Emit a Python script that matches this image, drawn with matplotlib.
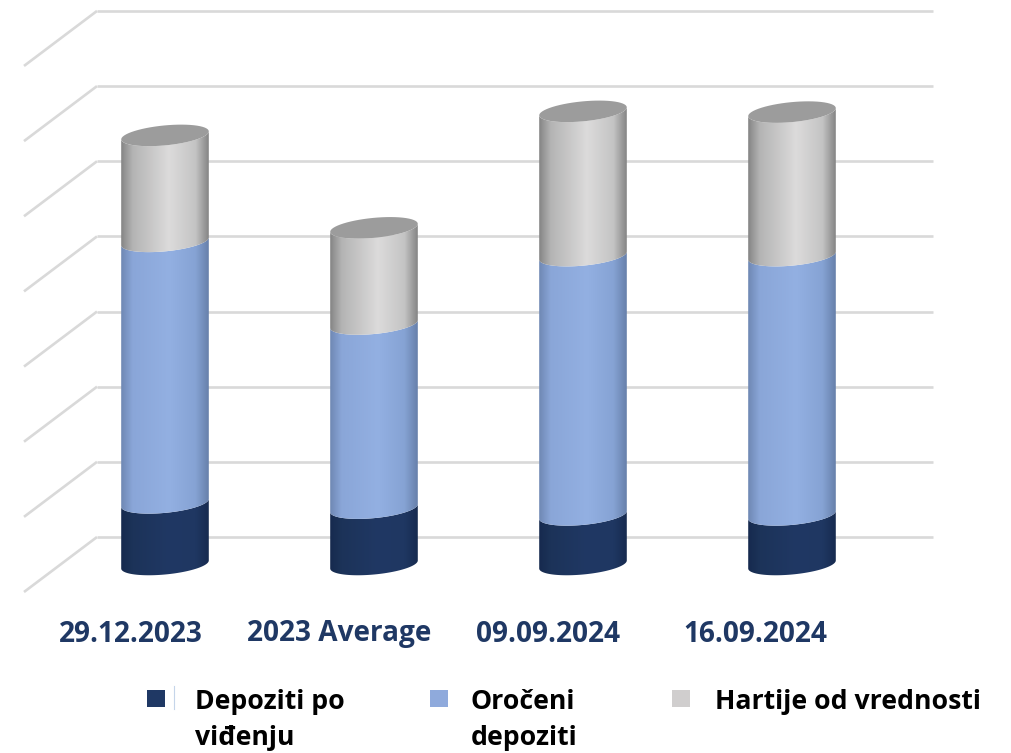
import numpy as np
import matplotlib
matplotlib.use('Agg')
import matplotlib.pyplot as plt
from matplotlib.colors import LinearSegmentedColormap
from matplotlib.patches import PathPatch, Polygon, Rectangle
from matplotlib.path import Path

categories = ['29.12.2023', '2023 Average', '09.09.2024', '16.09.2024']
demand = [0.82, 0.75, 0.66, 0.66]
term = [3.48, 2.45, 3.45, 3.45]
securities = [1.41, 1.28, 1.92, 1.91]
series_names = ['Depoziti po\nviđenju', 'Oročeni\ndepoziti', 'Hartije od vrednosti']
grid_values = [0, 1, 2, 3, 4, 5, 6, 7]

W, H = 1012, 753
PX_X = 209.0   # pixels per category
PX_Y = 75.15   # pixels per unit
X0 = 60.5      # pixel of the left end of the mid depth floor
Y0 = 564.5     # pixel of value 0 at mid depth

# the 3d look: back wall is shifted up and right, front is shifted down and left
DX = 36.5 / PX_X
DY = 27.5 / PX_Y
BAR_HALF = 43.8 / PX_X
TILT = 4.0 / PX_Y
RISE = 10.0 / PX_Y

RAMPS = [
    ['#162a4e', '#1c3359', '#203864', '#1f3762', '#172b50'],
    ['#6f88b4', '#8aa6d8', '#93b0e2', '#86a3d4', '#6780ab'],
    ['#858585', '#b4b4b4', '#dcdbdb', '#c4c4c4', '#858585'],
]
CAP_COLOR = '#9c9c9c'
GRID_COLOR = '#d9d9d9'
SWATCHES = ['#1f3864', '#8faadc', '#d0cece']
LABEL_COLOR = '#1f3864'
FONT = 'Open Sans'

fig = plt.figure(figsize=(W / 100, H / 100), dpi=100)
ax = fig.add_axes([0, 0, 1, 1])
ax.axis('off')
xlim = (-0.5 - X0 / PX_X, -0.5 + (W - X0) / PX_X)
ylim = (-(H - Y0) / PX_Y, Y0 / PX_Y)

# gridlines, back wall and left side wall
for g in grid_values:
    ax.plot([xlim[0] + (X0 + 36.5) / PX_X, -0.5 + (933 - X0) / PX_X], [g + DY, g + DY],
            color=GRID_COLOR, lw=1.9, zorder=1, solid_capstyle='butt')
    ax.plot([-0.5 - DX, -0.5 + DX], [g - DY, g + DY],
            color=GRID_COLOR, lw=1.9, zorder=1, solid_capstyle='butt')


def rim(xc, level, start, stop):
    t = np.linspace(start, stop, 60)
    return np.column_stack([xc + BAR_HALF * np.cos(t),
                            level + TILT * np.cos(t) + RISE * np.sin(t)])


def draw_segment(xc, low, high, ramp, z):
    # front arc of the lower rim, then front arc of the upper rim reversed
    lower = rim(xc, low, np.pi, 2 * np.pi)
    upper = rim(xc, high, 2 * np.pi, np.pi)
    verts = np.vstack([lower, upper, lower[:1]])
    clip = PathPatch(Path(verts), transform=ax.transData, fc='none', ec='none')
    ax.add_patch(clip)
    cmap = LinearSegmentedColormap.from_list('side', list(zip([0, 0.13, 0.55, 0.85, 1], ramp)))
    grad = np.linspace(0, 1, 128)[None, :]
    img = ax.imshow(grad, cmap=cmap, aspect='auto', zorder=z, interpolation='bilinear',
                    extent=(xc - BAR_HALF, xc + BAR_HALF, low - 2 * RISE, high + 2 * RISE))
    img.set_clip_path(clip)


for i in range(len(categories)):
    level = 0.0
    for k, vals in enumerate([demand, term, securities]):
        draw_segment(i, level, level + vals[i], RAMPS[k], 2 + k)
        level += vals[i]
    ax.add_patch(Polygon(rim(i, level, 0, 2 * np.pi), closed=True, fc=CAP_COLOR, ec='none', zorder=6))

ax.set_xlim(xlim)
ax.set_ylim(ylim)


def fx(px):
    return px / W


def fy(py):
    return 1 - py / H


# category labels
label_x = [131, 339, 548, 755.5]
for name, px in zip(categories, label_x):
    fig.text(fx(px), fy(634), name, ha='center', va='center', family=FONT,
             fontweight='bold', fontsize=20.2, color=LABEL_COLOR)

# legend, placed by hand because the columns are unevenly spaced
swatch_x = [147, 430, 672]
text_x = [195, 471, 715]
for name, color, sx, tx in zip(series_names, SWATCHES, swatch_x, text_x):
    fig.patches.append(Rectangle((fx(sx), fy(707)), 18 / W, 17 / H, transform=fig.transFigure,
                                 fc=color, ec='none'))
    fig.text(fx(tx), fy(689), name, ha='left', va='top', family=FONT, fontweight='bold',
             fontsize=19.2, color='black', linespacing=1.52)
fig.add_artist(plt.Line2D([fx(174.5), fx(174.5)], [fy(686), fy(709)], color='#c5d5ea', lw=0.8))

fig.savefig('out.png', dpi=100)
